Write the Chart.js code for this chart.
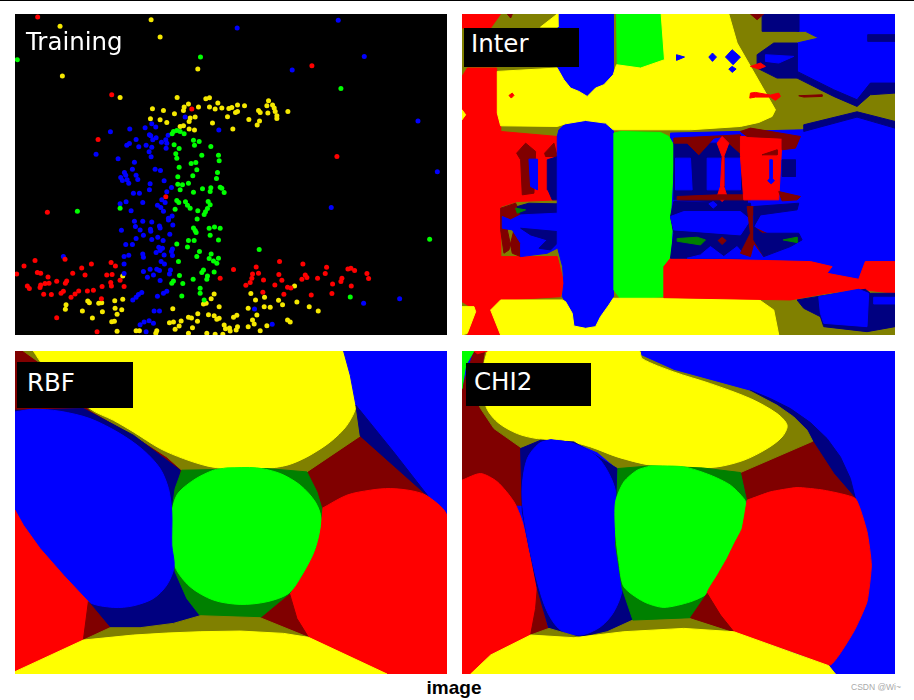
<!DOCTYPE html>
<html>
<head>
<meta charset="utf-8">
<title>image</title>
<script src="https://cdn.jsdelivr.net/npm/chart.js@4"></script>
<style>
  html, body { margin: 0; padding: 0; background: #fff; }
  body { width: 914px; height: 700px; position: relative; overflow: hidden; }
  #topLine { position: absolute; left: 0; top: 0; width: 914px; height: 1px; background: #000; }
  canvas { position: absolute; filter: blur(0.5px); }
  .tag { position: absolute; background: #000; color: #fff; font-family: "DejaVu Sans"; box-sizing: border-box; }
  #caption { position: absolute; left: 354px; top: 677px; width: 200px; text-align: center;
    font: bold 19px "Liberation Sans"; color: #000; }
  #mark { position: absolute; left: 851px; top: 682px; font: 8.5px "Liberation Sans"; color: #aaa; }
</style>
</head>
<body>
<div id="topLine"></div>
<canvas id="training" width="432" height="321" style="left:15px;top:14px"></canvas>
<canvas id="inter" width="433" height="321" style="left:462px;top:14px"></canvas>
<canvas id="rbf" width="432" height="323" style="left:15px;top:351px"></canvas>
<canvas id="chi2" width="433" height="323" style="left:462px;top:351px"></canvas>
<div class="tag" style="left:26px;top:26px;background:none;font-size:24.5px;line-height:32px">Training</div>
<div class="tag" style="left:464px;top:28px;width:115px;height:39px;font-size:24.5px;line-height:32px;padding-left:7px">Inter</div>
<div class="tag" style="left:17px;top:362px;width:116px;height:46px;font-size:24.5px;line-height:41px;padding-left:10px">RBF</div>
<div class="tag" style="left:466px;top:363px;width:125px;height:43px;font-size:24.5px;line-height:38px;padding-left:8px">CHI2</div>
<div id="caption">image</div>
<div id="mark">CSDN @Wi~</div>

<script>
const RED = '#ff0000', GREEN = '#00ff00', BLUE = '#0000ff', YELLOW = '#ffff00';
const DARK_RED = '#800000', DARK_GREEN = '#008000', DARK_BLUE = '#000080', OLIVE = '#808000';

// training samples
const redPoints = [[113,52],[935,198],[335,285],[575,328],[294,419],[1010,470],[142,637],[497,591],[195,778],[72,798],[105,782],[50,822],[112,818],[122,820],[144,831],[135,851],[147,850],[122,855],[120,863],[82,858],[88,866],[131,883],[154,884],[170,844],[200,843],[196,850],[218,820],[245,804],[255,825],[274,792],[333,788],[346,798],[320,825],[336,824],[332,848],[334,858],[360,841],[372,860],[306,860],[280,871],[262,873],[236,873],[225,882],[213,892],[190,874],[183,880],[304,896],[170,953],[291,995],[700,809],[660,835],[768,801],[757,822],[775,820],[755,835],[750,848],[737,856],[790,840],[788,877],[838,785],[836,824],[845,841],[824,855],[862,862],[872,864],[851,883],[908,792],[915,825],[920,833],[905,838],[952,835],[975,821],[979,802],[933,885],[995,881],[997,852],[1025,835],[1022,845],[1043,807],[1052,805],[1063,812],[1053,858],[1100,821],[1105,836]];
const yellowPoints = [[180,80],[453,60],[480,112],[593,208],[187,229],[360,293],[531,293],[617,297],[628,294],[565,313],[653,310],[552,322],[550,332],[595,322],[628,322],[645,328],[665,325],[686,326],[695,323],[712,316],[733,318],[706,338],[712,335],[775,332],[780,338],[805,303],[800,318],[817,316],[822,325],[825,335],[803,340],[830,348],[830,356],[863,335],[457,327],[490,332],[523,342],[451,357],[480,360],[500,368],[570,355],[585,352],[567,365],[540,380],[550,378],[567,388],[583,391],[637,370],[682,351],[698,388],[746,359],[778,364],[771,376],[368,828],[883,858],[752,881],[793,892],[766,900],[835,901],[847,914],[890,906],[927,920],[954,933],[198,914],[196,928],[247,933],[263,903],[268,908],[296,910],[305,908],[344,902],[368,898],[345,925],[365,929],[351,943],[307,935],[277,954],[335,965],[343,964],[351,994],[408,992],[418,992],[470,992],[467,1000],[508,968],[520,966],[543,963],[537,978],[525,988],[565,952],[574,954],[593,941],[592,964],[577,983],[565,1000],[620,1000],[645,1003],[668,1003],[625,944],[642,947],[650,958],[657,955],[657,920],[672,975],[676,986],[688,984],[690,993],[712,980],[708,990],[700,952],[710,946],[744,980],[757,960],[762,972],[770,945],[744,925],[780,992],[800,977],[792,920],[810,922],[862,960],[870,966],[518,926],[610,912],[618,910],[633,896],[642,882]];
const bluePoints = [[711,85],[1014,62],[1092,170],[876,211],[1253,364],[1311,516],[993,623],[288,463],[354,477],[331,396],[389,388],[435,384],[455,372],[467,382],[555,352],[656,391],[448,405],[452,408],[408,419],[380,436],[388,431],[416,441],[438,436],[458,420],[468,414],[504,406],[484,427],[497,420],[500,430],[455,442],[447,456],[453,471],[498,445],[403,487],[465,508],[481,512],[397,508],[373,518],[377,526],[408,526],[413,539],[362,533],[367,542],[381,540],[386,550],[450,552],[448,570],[492,543],[514,563],[500,576],[400,580],[418,580],[485,600],[378,606],[360,612],[428,608],[472,616],[482,623],[490,634],[495,608],[393,633],[516,648],[505,655],[505,660],[403,664],[428,664],[455,666],[406,680],[478,678],[480,684],[420,690],[451,688],[452,694],[518,675],[364,691],[430,706],[408,716],[455,719],[473,712],[489,722],[509,703],[377,734],[397,734],[476,742],[487,745],[480,752],[468,758],[517,747],[514,755],[517,767],[428,762],[430,772],[386,766],[372,770],[190,770],[492,765],[483,785],[493,792],[372,792],[450,808],[470,808],[430,815],[478,812],[511,810],[508,822],[460,825],[442,832],[480,842],[372,821],[425,878],[415,884],[408,892],[398,900],[500,874],[490,880],[472,889],[462,933],[478,933],[447,962],[432,966],[420,974],[460,970],[438,995],[763,927],[816,973],[1090,910],[1198,896]];
const greenPoints = [[52,180],[601,172],[1022,266],[232,634],[360,625],[1288,718],[777,749],[1050,891],[520,395],[530,392],[540,395],[552,402],[516,402],[522,435],[537,446],[580,421],[597,425],[583,436],[632,440],[527,462],[530,475],[605,466],[655,466],[657,483],[573,491],[587,488],[537,502],[590,510],[652,518],[533,531],[578,528],[649,536],[533,553],[547,555],[565,550],[540,570],[580,577],[607,567],[632,564],[630,575],[660,562],[665,565],[672,578],[530,602],[536,608],[556,606],[562,616],[570,625],[525,628],[624,605],[630,615],[622,626],[616,636],[612,644],[593,633],[591,657],[580,684],[585,692],[588,698],[627,685],[643,681],[660,685],[630,706],[655,720],[565,722],[582,722],[562,741],[530,732],[598,755],[590,770],[633,762],[627,776],[640,783],[655,775],[650,790],[535,785],[610,810],[605,818],[642,816],[622,828],[620,838],[538,827],[579,838],[520,843],[515,850],[548,851],[600,865],[600,880],[545,888],[612,900]];

// Inter kernel regions, back to front: [colour, outline]
const interLayers = [
  [OLIVE, [[14,43],[1314,43],[1314,1005],[14,1005]]],
  [BLUE, [[640,400],[1040,390],[1200,352],[1314,385],[1314,785],[1225,785],[1205,838],[1110,820],[1125,800],[1060,785],[640,775]]],
  [DARK_BLUE, [[1040,375],[1200,336],[1314,365],[1314,385],[1200,352],[1040,395]]],
  [RED, [[14,43],[130,43],[100,85],[14,85]]],
  [RED, [[14,230],[30,205],[118,205],[120,345],[130,380],[130,395],[300,410],[300,600],[180,605],[130,620],[130,770],[190,770],[300,770],[320,850],[310,890],[150,900],[100,930],[130,1005],[30,1005],[55,930],[14,905]]],
  [DARK_RED, [[178,460],[205,430],[235,455],[230,580],[195,585],[190,480]]],
  [BLUE, [[215,478],[240,478],[240,570],[220,560]]],
  [DARK_RED, [[262,460],[290,430],[300,470],[265,470]]],
  [DARK_BLUE, [[270,480],[302,470],[302,600],[285,600],[272,570]]],
  [DARK_RED, [[130,625],[175,610],[190,640],[150,690],[165,760],[190,770],[275,740],[280,715],[240,700],[190,690],[170,690],[155,750],[140,760],[130,690]]],
  [DARK_BLUE, [[180,620],[215,610],[300,612],[300,640],[190,645]]],
  [DARK_GREEN, [[175,625],[205,630],[180,640]]],
  [BLUE, [[135,650],[160,660],[190,645],[300,640],[310,720],[300,745],[270,760],[190,770],[190,730],[165,690],[135,685]]],
  [DARK_BLUE, [[190,685],[300,695],[310,720],[280,750],[245,745],[270,720],[220,705]]],
  [BLUE, [[302,43],[468,43],[468,225],[455,240],[440,255],[415,265],[390,290],[365,275],[340,265],[320,240],[300,215]]],
  [BLUE, [[300,410],[305,390],[325,372],[385,362],[445,370],[468,385],[468,890],[455,915],[430,950],[415,980],[385,985],[350,978],[345,940],[325,905],[315,890],[320,850],[316,800],[300,740]]],
  [GREEN, [[478,43],[612,43],[622,180],[550,205],[480,195]]],
  [GREEN, [[470,400],[490,395],[610,398],[635,410],[652,440],[640,650],[645,690],[640,770],[622,800],[620,890],[560,895],[490,897],[470,870]]],
  [YELLOW, [[250,82],[300,43],[302,82]]],
  [YELLOW, [[120,215],[300,205],[320,240],[340,265],[365,275],[390,290],[415,265],[440,255],[468,225],[478,195],[550,205],[622,180],[612,43],[815,43],[840,130],[955,330],[945,350],[905,368],[850,380],[700,390],[468,390],[445,370],[385,362],[325,372],[300,380],[130,378],[120,340]]],
  [YELLOW, [[100,930],[130,900],[315,900],[325,905],[345,940],[350,978],[385,985],[415,980],[430,950],[455,915],[468,895],[900,895],[950,930],[965,1005],[130,1005]]],
  [YELLOW, [[14,920],[50,920],[55,935],[30,1000],[14,1005]]],
  [YELLOW, [[14,330],[25,345],[14,360]]],
  [RED, [[640,775],[1060,785],[1125,800],[1110,820],[1205,838],[1225,785],[1314,785],[1314,880],[1205,868],[1110,880],[1000,900],[620,893],[620,800]]],
  [DARK_BLUE, [[650,430],[870,430],[870,610],[650,600]]],
  [BLUE, [[655,475],[700,475],[705,570],[655,570]]],
  [BLUE, [[750,475],[790,475],[790,570],[750,570]]],
  [BLUE, [[805,475],[850,475],[850,570],[805,570]]],
  [DARK_RED, [[650,415],[850,405],[860,470],[815,430],[795,410],[770,415],[725,465],[690,430],[650,430]]],
  [RED, [[795,410],[815,430],[800,470],[800,560],[810,590],[795,605],[780,590],[790,560],[795,470],[780,430]]],
  [DARK_RED, [[660,590],[780,585],[880,585],[880,600],[660,600]]],
  [DARK_BLUE, [[650,605],[880,610],[885,650],[880,700],[880,740],[850,775],[640,775],[650,700],[640,650]]],
  [BLUE, [[640,650],[680,635],[850,635],[880,660],[860,690],[850,705],[650,690]]],
  [BLUE, [[690,775],[730,765],[760,740],[800,770],[840,740],[870,775]]],
  [DARK_GREEN, [[660,716],[720,712],[745,720],[730,735],[660,724]]],
  [DARK_RED, [[783,722],[795,712],[807,722],[795,734]]],
  [BLUE, [[755,612],[768,605],[780,615],[768,625]]],
  [RED, [[850,410],[975,415],[965,600],[860,600],[850,470]]],
  [DARK_RED, [[850,395],[880,385],[1030,410],[1015,445],[975,450],[975,415],[870,410]]],
  [DARK_RED, [[915,465],[960,450],[960,465]]],
  [BLUE, [[938,480],[945,480],[945,535],[952,543],[942,552],[932,543],[938,535]]],
  [DARK_BLUE, [[975,480],[1015,480],[1015,530],[975,530]]],
  [DARK_RED, [[965,575],[1030,590],[1020,600],[975,603]]],
  [DARK_RED, [[870,620],[910,620],[885,650],[885,680],[960,715],[920,770],[890,730],[880,770],[850,760],[880,700]]],
  [DARK_BLUE, [[890,620],[1025,610],[1020,630],[910,645],[890,680],[915,700],[1025,700],[1035,720],[1000,740],[920,770],[890,720]]],
  [DARK_GREEN, [[978,720],[1020,712],[1020,728]]],
  [BLUE, [[1025,43],[1314,43],[1314,105],[1232,105],[1232,125],[1314,125],[1314,250],[1240,250],[1200,300],[1130,270],[1020,215],[1020,130],[1085,115],[1045,95],[1020,95]]],
  [DARK_BLUE, [[1020,215],[1130,270],[1200,300],[1240,250],[1314,250],[1314,280],[1240,285],[1200,320],[1130,290],[1020,235]]],
  [DARK_BLUE, [[915,43],[1025,43],[1025,95],[915,95]]],
  [DARK_BLUE, [[900,165],[950,130],[1020,130],[1020,235],[960,235],[900,205]]],
  [BLUE, [[925,165],[1010,170],[965,190],[925,185]]],
  [DARK_BLUE, [[1232,105],[1314,105],[1314,125],[1232,125]]],
  [RED, [[880,200],[910,190],[925,200],[905,208]]],
  [DARK_RED, [[880,43],[920,43],[900,60]]],
  [DARK_RED, [[150,43],[165,43],[160,55]]],
  [RED, [[880,280],[895,278],[940,286],[965,280],[970,290],[955,302],[940,292],[895,292],[878,295]]],
  [DARK_RED, [[1025,288],[1095,285],[1095,290],[1040,292]]],
  [BLUE, [[805,172],[825,150],[850,172],[828,195]]],
  [BLUE, [[755,172],[766,160],[778,172],[766,185]]],
  [BLUE, [[658,165],[682,172],[658,182]]],
  [BLUE, [[815,208],[825,200],[837,208],[825,218]]],
  [RED, [[155,287],[165,280],[170,287],[162,295]]],
  [DARK_BLUE, [[1020,900],[1080,890],[1225,868],[1240,880],[1314,880],[1314,980],[1230,995],[1100,980],[1090,950],[1040,925]]],
  [BLUE, [[1085,890],[1205,868],[1235,880],[1230,980],[1100,970],[1090,940]]],
  [BLUE, [[1250,892],[1314,892],[1314,912],[1250,912]]]
];

// RBF kernel regions
const rbfLayers = [
  [DARK_RED, 0, [[45,17],[1340,17],[1340,987],[45,987]]],
  [DARK_RED, 0, [[920,380],[1080,272],[1280,450],[1160,430],[1060,445],[965,490],[950,440]]],
  [OLIVE, 0, [[1067,17],[1067,180],[1080,272],[920,380],[800,372],[545,375],[500,335],[400,270],[270,195],[130,60],[70,17]]],
  [YELLOW, 0.3, [[100,17],[1030,17],[1050,90],[1067,180],[1040,240],[990,290],[920,335],[860,360],[790,370],[680,370],[620,362],[550,340],[480,310],[400,260],[340,225],[270,190],[130,60],[100,17]]],
  [BLUE, 0, [[1030,17],[1340,17],[1340,515],[1285,455],[1190,340],[1067,180],[1050,90]]],
  [DARK_BLUE, 0, [[1067,180],[1180,320],[1285,455],[1080,272]]],
  [RED, 0.3, [[965,490],[1040,450],[1110,435],[1170,430],[1240,438],[1285,455],[1340,515],[1340,987],[1160,987],[925,877],[890,820],[868,745],[905,690],[945,610],[962,520],[965,490]]],
  [DARK_RED, 0, [[868,745],[780,818],[925,877],[890,820]]],
  [DARK_BLUE, 0, [[250,190],[400,270],[540,375],[515,500],[520,660],[600,812],[520,835],[420,848],[330,848],[265,770],[45,500],[45,195]]],
  [DARK_GREEN, 0, [[545,375],[800,370],[920,380],[950,440],[965,490],[962,520],[945,610],[905,690],[868,745],[780,818],[600,812],[560,760],[525,680],[515,560],[515,500],[525,430]]],
  [GREEN, 0.3, [[680,368],[770,368],[840,385],[900,420],[945,470],[962,520],[945,610],[905,690],[865,745],[800,770],[720,778],[640,765],[570,725],[525,665],[513,580],[513,520],[530,450],[580,405],[640,375],[680,368]]],
  [BLUE, 0.3, [[45,200],[100,192],[180,198],[270,220],[360,265],[430,315],[480,370],[505,430],[515,500],[515,600],[522,665],[500,720],[460,760],[400,782],[340,787],[265,770],[190,690],[120,610],[70,540],[45,495],[45,200]]],
  [RED, 0, [[45,495],[70,540],[120,610],[190,690],[265,770],[262,810],[250,885],[45,980]]],
  [DARK_RED, 0, [[265,770],[330,848],[250,885]]],
  [OLIVE, 0, [[250,885],[330,848],[420,848],[520,835],[600,812],[780,818],[925,877],[850,870],[700,865],[500,868]]],
  [YELLOW, 0, [[250,885],[400,870],[500,864],[600,860],[720,858],[850,865],[925,877],[1160,987],[45,987],[45,980]]]
];

// CHI2 kernel regions
const chi2Layers = [
  [BLUE, 0, [[14,17],[1314,17],[1314,987],[14,987]]],
  [DARK_BLUE, 0, [[880,135],[940,160],[1000,190],[1060,232],[1110,280],[1150,335],[1180,400],[1195,460],[1130,385],[1067,288],[1050,255],[1010,215],[960,180],[880,140]]],
  [DARK_RED, 0, [[50,17],[90,17],[60,170],[110,250],[195,310],[195,480],[14,480],[14,130]]],
  [DARK_RED, 0, [[850,382],[1067,288],[1130,385],[1195,460],[1100,435],[1020,427],[940,440],[870,465],[860,420]]],
  [OLIVE, 0, [[85,17],[550,17],[550,30],[650,75],[880,138],[960,180],[1010,215],[1050,255],[1067,288],[850,382],[735,370],[480,370],[420,320],[350,290],[250,285],[195,310],[110,250],[70,190],[60,170]]],
  [YELLOW, 0.3, [[90,17],[545,17],[555,40],[650,80],[760,115],[880,160],[960,205],[990,240],[975,275],[930,310],[860,345],[780,365],[680,368],[580,360],[480,335],[400,305],[320,285],[240,280],[180,265],[120,230],[85,180],[80,60],[90,17]]],
  [GREEN, 0, [[14,17],[50,17],[25,60],[14,130]]],
  [RED, 0, [[50,17],[90,17],[60,25]]],
  [RED, 0.25, [[14,405],[70,385],[120,410],[170,470],[195,530],[215,620],[240,730],[235,790],[220,870],[100,930],[40,987],[14,987],[14,405]]],
  [DARK_RED, 0, [[240,730],[272,850],[220,870],[235,790]]],
  [DARK_BLUE, 0, [[190,310],[250,285],[350,290],[480,370],[475,500],[495,730],[527,825],[450,860],[370,878],[275,850],[240,730],[195,500]]],
  [BLUE, 0.3, [[280,283],[350,295],[420,335],[455,385],[475,440],[473,520],[480,620],[495,730],[470,800],[430,845],[370,870],[310,855],[270,800],[240,710],[215,600],[197,490],[195,420],[210,340],[245,295],[280,283]]],
  [OLIVE, 0, [[220,870],[275,850],[370,878],[450,860],[527,825],[700,818],[830,860],[680,852],[500,862],[350,880]]],
  [DARK_GREEN, 0, [[482,370],[580,362],[735,368],[850,382],[868,465],[845,570],[750,745],[700,818],[527,825],[495,730],[475,600]]],
  [GREEN, 0.25, [[580,362],[680,365],[760,390],[820,420],[860,460],[868,480],[855,550],[832,595],[810,640],[780,692],[750,745],[700,770],[620,787],[560,770],[500,725],[485,650],[475,560],[475,470],[500,410],[540,375],[580,362]]],
  [RED, 0.15, [[870,465],[940,440],[1020,427],[1100,435],[1195,460],[1230,560],[1243,660],[1230,770],[1190,860],[1120,960],[1020,925],[925,893],[830,860],[790,810],[750,745],[780,692],[810,640],[832,595],[855,550],[870,465]]],
  [DARK_RED, 0, [[750,745],[700,818],[830,860],[790,810]]],
  [YELLOW, 0, [[220,870],[350,878],[500,860],[680,850],[830,860],[1115,962],[1135,987],[40,987],[100,930]]]
];

function toXY(pts) {
  return pts.map(p => ({ x: p[0], y: p[1] }));
}

function makeChart(id, xRange, yRange, datasets) {
  // later datasets go on top
  datasets.forEach((d, i) => { d.order = datasets.length - i; });
  return new Chart(document.getElementById(id), {
    type: 'scatter',
    data: { datasets },
    options: {
      responsive: false,
      animation: false,
      events: [],
      layout: { padding: 0, autoPadding: false },
      plugins: { legend: { display: false }, tooltip: { enabled: false }, title: { display: false } },
      scales: {
        x: { display: false, min: xRange[0], max: xRange[1] },
        y: { display: false, min: yRange[0], max: yRange[1], reverse: true }
      }
    }
  });
}

function regionSet(color, tension, pts) {
  const closed = pts.concat([pts[0]]);
  return {
    data: toXY(closed),
    showLine: true,
    fill: 'shape',
    tension,
    backgroundColor: color,
    borderColor: color,
    borderWidth: 1,
    pointRadius: 0
  };
}

function pointSet(color, pts) {
  return {
    data: toXY(pts),
    showLine: false,
    backgroundColor: color,
    borderColor: color,
    borderWidth: 0,
    pointRadius: 2.5
  };
}

makeChart('training', [45, 1340], [43, 1005], [
  regionSet('#000000', 0, [[45,43],[1340,43],[1340,1005],[45,1005]]),
  pointSet('#f5e800', yellowPoints),
  pointSet(BLUE, bluePoints),
  pointSet(GREEN, greenPoints),
  pointSet(RED, redPoints)
]);
makeChart('inter', [14, 1314], [43, 1005], interLayers.map(l => regionSet(l[0], 0, l[1])));
makeChart('rbf', [45, 1340], [17, 987], rbfLayers.map(l => regionSet(l[0], l[1], l[2])));
makeChart('chi2', [14, 1314], [17, 987], chi2Layers.map(l => regionSet(l[0], l[1], l[2])));
</script>
</body>
</html>
